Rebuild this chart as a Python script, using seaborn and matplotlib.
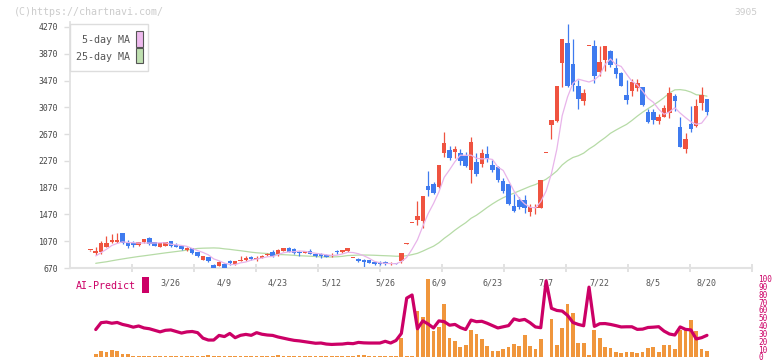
import numpy as np
import pandas as pd
import matplotlib
matplotlib.use("Agg")
import matplotlib.pyplot as plt
from matplotlib.patches import Rectangle
import seaborn as sns

# ---------------- data ----------------
opens = [933, 894, 909, 991, 1058, 1058, 1193, 1043, 1036, 1014,
         1054, 1111, 1054, 991, 1006, 1073, 1014, 1003, 939, 969,
         902, 790, 830, 715, 704, 725, 775, 725, 775, 794,
         834, 800, 819, 864, 905, 884, 928, 964, 949, 914,
         899, 928, 884, 879, 864, 849, 919, 905, 924, 815,
         809, 790, 785, 760, 749, 755, 734, 745, 779, 1033,
         1335, 1387, 1377, 1895, 1925, 1873, 2393, 2433, 2399, 2393,
         2343, 2134, 2254, 2224, 2373, 2209, 2184, 1975, 1925, 1596,
         1681, 1686, 1511, 1566, 1571, 2384, 2807, 2862, 3725, 4031,
         3718, 3389, 3169, 3982, 3987, 3603, 3778, 3917, 3653, 3583,
         3255, 3314, 3359, 3367, 2996, 2996, 2871, 2931, 2991, 3240,
         2777, 2441, 2821, 2792, 3140, 3195]
highs = [940, 984, 1073, 1148, 1178, 1193, 1200, 1088, 1080, 1065,
         1110, 1126, 1065, 1043, 1060, 1080, 1039, 1020, 990, 970,
         905, 855, 835, 737, 782, 740, 790, 780, 849, 849,
         849, 842, 860, 899, 934, 954, 975, 979, 964, 928,
         925, 949, 894, 899, 872, 889, 939, 945, 973, 825,
         824, 800, 790, 770, 770, 775, 755, 749, 899, 1039,
         1342, 1671, 1746, 2124, 1960, 2215, 2702, 2493, 2493, 2443,
         2403, 2622, 2393, 2448, 2493, 2284, 2199, 2010, 1932, 1775,
         1738, 1760, 1626, 1621, 1990, 2388, 2880, 3395, 4095, 4315,
         4091, 3479, 3340, 3987, 4076, 3987, 3990, 3920, 3803, 3603,
         3479, 3494, 3494, 3379, 3046, 3041, 2971, 3105, 3379, 3270,
         2931, 2694, 3090, 3195, 3374, 3200]
lows = [930, 864, 879, 991, 1043, 1050, 1028, 969, 984, 1006,
        1050, 1014, 999, 984, 1000, 991, 979, 938, 930, 885,
        835, 785, 760, 665, 700, 651, 722, 720, 775, 779,
        790, 782, 815, 854, 834, 854, 920, 905, 875, 849,
        894, 875, 839, 815, 830, 830, 879, 900, 914, 815,
        764, 689, 745, 719, 710, 719, 719, 730, 740, 1033,
        1335, 1312, 1272, 1746, 1771, 1865, 2324, 2284, 2309, 2209,
        2179, 1944, 2045, 2184, 2254, 2104, 1960, 1790, 1611, 1502,
        1551, 1496, 1447, 1472, 1565, 2384, 2597, 2851, 3379, 3370,
        3315, 3038, 3105, 3982, 3439, 3539, 3618, 3673, 3504, 3389,
        3116, 3240, 3314, 3090, 2831, 2821, 2821, 2921, 2916, 3021,
        2478, 2391, 2709, 2777, 3031, 2956]
closes = [937, 931, 1043, 1036, 1088, 1088, 1043, 999, 1021, 1058,
          1103, 1028, 1006, 1039, 1054, 999, 988, 954, 973, 894,
          842, 849, 775, 670, 755, 666, 745, 775, 794, 819,
          805, 824, 854, 884, 845, 943, 964, 914, 899, 899,
          919, 884, 849, 845, 839, 869, 905, 939, 969, 822,
          779, 755, 749, 734, 725, 730, 745, 734, 894, 1039,
          1342, 1447, 1746, 1835, 1795, 2209, 2542, 2309, 2443, 2273,
          2198, 2557, 2075, 2393, 2299, 2134, 1985, 1825, 1631, 1526,
          1586, 1571, 1577, 1581, 1985, 2388, 2877, 3389, 4091, 3385,
          3400, 3190, 3280, 3987, 3539, 3752, 3987, 3703, 3568, 3394,
          3180, 3453, 3434, 3105, 2856, 2881, 2931, 3060, 3280, 3169,
          2482, 2594, 2747, 3090, 3255, 3005]

# moving averages before enough in-window history exists
ma5_head = [850, 900, 950]                       # days 1..3
ma25_head = [740, 752, 763, 778, 792, 805, 818, 830, 842, 852,
             863, 874, 885, 896, 906, 916, 926, 937, 950, 962,
             966, 968, 970]                      # days 1..23

# volume (relative, 0-100 scale of lower panel), day 0 has none
volume = [0, 4.3, 7.3, 6.5, 8.5, 7.3, 3.4, 3.4, 1.5, 1.5,
          1.5, 1.5, 1.5, 1.5, 1.5, 1.5, 1.5, 1.5, 1.5, 1.5,
          1.5, 1.5, 2.5, 1.5, 1.5, 1.5, 1.5, 1.5, 1.5, 1.5,
          1.5, 1.5, 1.5, 1.5, 1.5, 2.5, 1.5, 1.5, 1.5, 1.5,
          1.5, 1.5, 1.5, 1.5, 1.5, 1.5, 1.5, 1.5, 1.5, 1.5,
          2.5, 2.5, 1.5, 1.5, 1.5, 1.5, 1.5, 0.8, 24.6, 0.7,
          0.7, 58.5, 51, 100, 33.5, 38, 68, 23.8, 20, 13,
          15, 34, 29, 23.4, 14, 7.2, 7.2, 10.2, 12.7, 16,
          14, 27.6, 14.5, 9.9, 22.5, 0.5, 48, 15, 36.5, 68,
          55.5, 17.4, 17.4, 2.3, 35, 23.8, 12.7, 12, 6.9, 4.7,
          6.9, 6.9, 4.7, 6.9, 11, 12.7, 6.9, 15, 15, 9.8,
          34, 34, 46.6, 32.5, 9.8, 7.6]

# AI-Predict score (0-100), from day 1
ai_predict = [35, 43.7, 44.5, 43, 44, 41.5, 40, 38, 39.5, 37,
              36, 34, 32, 34, 34.5, 32.5, 30.5, 32, 32.5, 31,
              24, 21.6, 21.6, 27.5, 26, 30, 24.6, 27.6, 28.8, 27.6,
              31, 29, 28, 27.5, 25.5, 24, 22.5, 21.2, 20.5, 19.5,
              18.5, 17.5, 17.8, 16.5, 16, 16.3, 16.5, 17.4, 17, 18.6,
              18, 17.8, 17.8, 17.8, 20, 17.8, 21, 30, 75, 79,
              36, 46, 42, 37, 46, 45, 40.5, 41.5, 37.5, 35,
              47, 45, 45.5, 43, 40, 37, 38.5, 40, 48.5, 46.6,
              47.9, 43.7, 38.3, 37.3, 97, 62, 59.3, 58.5, 53, 44,
              41.5, 39.8, 89, 39, 42.4, 42.6, 41.5, 40, 38.3, 38.5,
              38.5, 35.2, 35.5, 37.6, 38, 38.6, 33, 29.3, 28, 38.3,
              35.2, 34.5, 23, 24.6, 27.6]

date_labels = ["3/26", "4/9", "4/23", "5/12", "5/26", "6/9", "6/23",
               "7/7", "7/22", "8/5", "8/20"]
date_label_days = [15, 25, 35, 45, 55, 65, 75, 85, 95, 105, 115]
price_ticks = [670, 1070, 1470, 1870, 2270, 2670, 3070, 3470, 3870, 4270]
score_ticks = list(range(0, 101, 10))

# ---------------- derived ----------------
n = len(closes)
day = np.arange(n)
df = pd.DataFrame({"day": day, "open": opens, "high": highs,
                   "low": lows, "close": closes, "volume": volume})
ma5 = df["close"].rolling(5).mean().to_numpy()
ma25 = df["close"].rolling(25).mean().to_numpy()
ma5[1:1 + len(ma5_head)] = ma5_head
ma25[1:1 + len(ma25_head)] = ma25_head
df["ma5"] = ma5
df["ma25"] = ma25
ai_df = pd.DataFrame({"day": day[1:], "ai": ai_predict})

RED = "#ef5340"
BLUE = "#3f7bef"
MA5_C = "#e8b4ea"
MA25_C = "#b6dba6"
MAG = "#cc0066"

sns.set_theme(style="white")
plt.rcParams["font.family"] = ["DejaVu Sans Mono", "DejaVu Sans"]

W, H = 772, 361
fig = plt.figure(figsize=(W / 100, H / 100), dpi=100)


def fx(px):
    return px / W


def fy(py):
    return 1 - py / H


ax = fig.add_axes([fx(70), fy(268), (752 - 70) / W, (268 - 22) / H])
ax2 = fig.add_axes([fx(70), fy(357), (752 - 70) / W, (357 - 278.5) / H])

xmin, xmax = -3.8, 123.4
ymin = 670
ymax = 670 + (268 - 22) * 3600 / 241

# ---- candles ----
up = df["close"] >= df["open"]
colors = np.where(up, RED, BLUE)
ax.vlines(df["day"], df["low"], df["high"], colors=colors, lw=0.9, zorder=2)
body_bottom = np.minimum(df["open"], df["close"])
body_h = np.maximum(np.abs(df["close"] - df["open"]), 15)
ax.bar(df["day"], body_h, bottom=body_bottom, width=0.84, color=colors,
       linewidth=0, zorder=3)

# ---- moving averages ----
valid = df.dropna(subset=["ma5"])
sns.lineplot(data=valid, x="day", y="ma5", ax=ax, color=MA5_C, lw=0.9,
             zorder=4, sort=True)
valid = df.dropna(subset=["ma25"])
sns.lineplot(data=valid, x="day", y="ma25", ax=ax, color=MA25_C, lw=0.9,
             zorder=1, sort=True)

ax.set_xlim(xmin, xmax)
ax.set_ylim(ymin, ymax)
ax.set_xlabel("")
ax.set_ylabel("")
for s in ["top", "right"]:
    ax.spines[s].set_visible(False)
ax.spines["left"].set_color("#e2e2e2")
ax.spines["left"].set_linewidth(1.3)
ax.spines["bottom"].set_color("#e2e2e2")
ax.spines["bottom"].set_linewidth(1.5)

ax.set_yticks(price_ticks)
ax.set_yticklabels([str(t) for t in price_ticks])
ax.tick_params(axis="y", which="major", length=4, width=1, color="#dddddd",
               labelsize=5.9, labelcolor="#444444", pad=4.5, left=True)
ax.set_xticks(date_label_days)
ax.set_xticklabels(date_labels)
ax.tick_params(axis="x", which="major", length=0, labelsize=6.0,
               labelcolor="#555555", pad=7.5, bottom=True)
ax.set_xticks(np.linspace(xmin, xmax, 12)[1:], minor=True)
ax.tick_params(axis="x", which="minor", direction="inout", length=6,
               width=1.2, color="#dddddd", bottom=True)

# ---- lower panel: volume and AI-Predict ----
ax2.bar(df["day"], df["volume"], width=0.7, color="#f0963c", linewidth=0,
        zorder=1, clip_on=False)
sns.lineplot(data=ai_df, x="day", y="ai", ax=ax2, color=MAG, lw=2.3,
             zorder=3, clip_on=False)
ax2.set_xlim(xmin, xmax)
ax2.set_ylim(0, 100)
ax2.set_xlabel("")
ax2.set_ylabel("")
for s in ax2.spines.values():
    s.set_visible(False)
ax2.set_xticks([])
ax2.yaxis.tick_right()
ax2.set_yticks(score_ticks)
ax2.set_yticklabels([str(t) for t in score_ticks])
ax2.tick_params(axis="y", length=0, pad=4.5, labelsize=5.6, labelcolor=MAG,
                right=True, left=False)
ax2.patch.set_alpha(0)

# ---- legend box ----
fig.patches.append(Rectangle((fx(70), fy(71)), (148 - 70) / W, (71 - 24) / H,
                             transform=fig.transFigure, facecolor="white",
                             edgecolor="#dddddd", lw=1, zorder=5))
fig.text(fx(130), fy(40), "5-day MA", ha="right", va="center", fontsize=7.2,
         color="#555555", zorder=6)
fig.text(fx(130), fy(56.5), "25-day MA", ha="right", va="center", fontsize=7.2,
         color="#555555", zorder=6)
fig.patches.append(Rectangle((fx(136), fy(46.5)), 6.5 / W, 15 / H,
                             transform=fig.transFigure, facecolor="#eebaee",
                             edgecolor="#555555", lw=0.8, zorder=6))
fig.patches.append(Rectangle((fx(136), fy(63.3)), 6.5 / W, 15 / H,
                             transform=fig.transFigure, facecolor="#bfe0b0",
                             edgecolor="#555555", lw=0.8, zorder=6))

# ---- other texts ----
fig.text(fx(14), fy(12.3), "(C)https://chartnavi.com/", ha="left", va="center",
         fontsize=7.2, color="#cccccc")
fig.text(fx(757), fy(12.3), "3905", ha="right", va="center", fontsize=6.8,
         color="#cccccc")
fig.text(fx(76), fy(286), "AI-Predict", ha="left", va="center", fontsize=7.2,
         color=MAG)
fig.patches.append(Rectangle((fx(142.3), fy(292.7)), 6.7 / W, 15.4 / H,
                             transform=fig.transFigure, facecolor=MAG,
                             edgecolor="none", zorder=6))

fig.savefig("out.png", dpi=100, facecolor="white")
